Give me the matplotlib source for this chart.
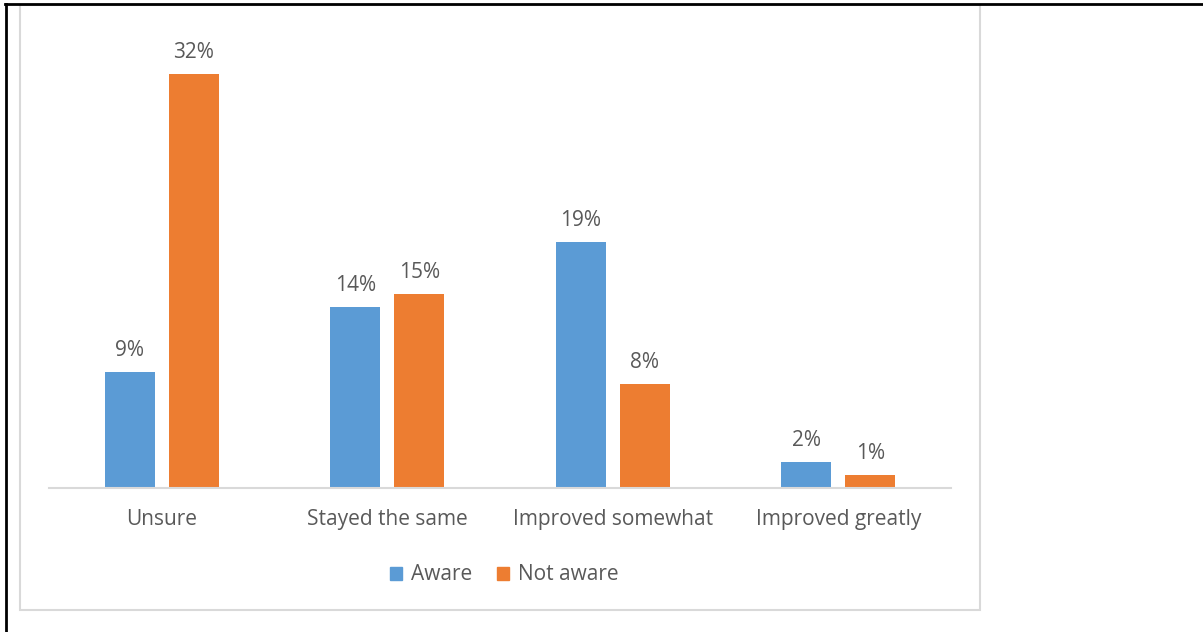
import matplotlib.pyplot as plt
from matplotlib.lines import Line2D
from matplotlib.patches import Rectangle, Patch
import numpy as np

categories = ["Unsure", "Stayed the same", "Improved somewhat", "Improved greatly"]
aware = [9, 14, 19, 2]
not_aware = [32, 15, 8, 1]

blue = "#5B9BD5"
orange = "#ED7D31"
text_col = "#595959"

plt.rcParams["font.family"] = ["Open Sans", "DejaVu Sans"]

W, H = 1203, 632
fig = plt.figure(figsize=(W / 100, H / 100), dpi=100)

# plot area in pixels: x 49..951, baseline at y=488, 0..35% spans 453 px
left, right, base, top = 49, 951, 488, 35
ax = fig.add_axes([left / W, 1 - base / H, (right - left) / W, (base - top) / H])

x = np.arange(len(categories))
bw = 0.222
off = 0.142
b1 = ax.bar(x - off, aware, bw, color=blue, label="Aware")
b2 = ax.bar(x + off, not_aware, bw, color=orange, label="Not aware")

for bars, vals in ((b1, aware), (b2, not_aware)):
    for b, v in zip(bars, vals):
        ax.text(b.get_x() + b.get_width() / 2, v + 0.85, f"{v}%",
                ha="center", va="bottom", fontsize=15, color=text_col)

ax.set_xlim(-0.5, len(categories) - 0.5)
ax.set_ylim(0, 35)
ax.set_yticks([])
ax.set_xticks(x)
ax.set_xticklabels(categories, fontsize=15, color=text_col)
ax.tick_params(axis="x", length=0, pad=15)
for s in ("top", "right", "left"):
    ax.spines[s].set_visible(False)
ax.spines["bottom"].set_color("#D9D9D9")
ax.spines["bottom"].set_linewidth(1.5)

handles = [Patch(color=blue, label="Aware"), Patch(color=orange, label="Not aware")]
fig.legend(handles=handles, loc="center", bbox_to_anchor=(504 / W, 1 - 575 / H),
           ncol=2, frameon=False, fontsize=15, labelcolor=text_col,
           handlelength=0.6, handleheight=0.6, handletextpad=0.4, columnspacing=1.2)

# chart border
fig.add_artist(Rectangle((20 / W, 1 - 610 / H), 960 / W, 605 / H, transform=fig.transFigure,
                         fill=False, edgecolor="#D9D9D9", linewidth=1.5))
# outer black lines
fig.add_artist(Line2D([5 / W, 1], [1 - 4 / H, 1 - 4 / H], transform=fig.transFigure,
                      color="black", linewidth=2))
fig.add_artist(Line2D([5.5 / W, 5.5 / W], [0, 1 - 4 / H], transform=fig.transFigure,
                      color="black", linewidth=2))

fig.savefig("out.png", dpi=100)
